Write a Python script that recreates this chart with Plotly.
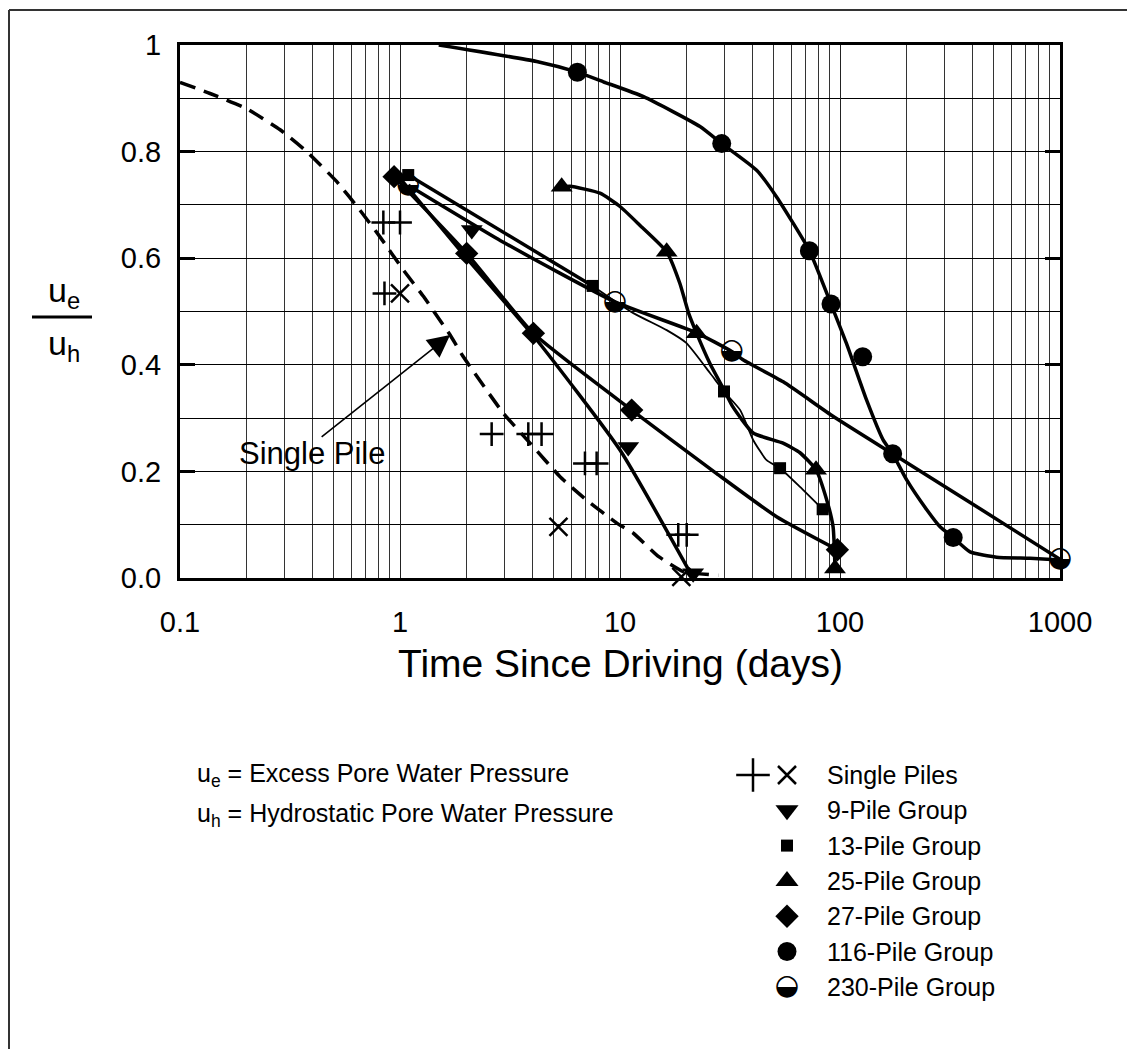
import math
import plotly.graph_objects as go

PAGE_W, PAGE_H = 1135, 1057
OFF = 8  # browser body margin
W, H = PAGE_W - 2 * OFF, PAGE_H - 2 * OFF
FONT = "Liberation Sans, Arial, Helvetica, sans-serif"

# ---- data (time in days, ue/uh) ----
# single piles, dashed curve
single_x = [0.1, 0.137, 0.2, 0.285, 0.377, 0.515, 0.658, 0.811, 1.035, 1.28, 1.57, 1.69,
            1.94, 2.95, 3.9, 5.34, 7.05, 9.67, 11.5, 15.0, 19.4, 28.0]
single_y = [0.93, 0.909, 0.881, 0.841, 0.80, 0.744, 0.69, 0.64, 0.578, 0.528, 0.475, 0.456,
            0.415, 0.309, 0.253, 0.19, 0.146, 0.103, 0.084, 0.04, 0.012, 0.005]
plus_x = [0.84, 1.0, 0.85, 2.61, 3.83, 4.40, 6.93, 7.83, 18.4, 20.1]
plus_y = [0.667, 0.667, 0.534, 0.27, 0.27, 0.27, 0.215, 0.215, 0.081, 0.081]
cross_x = [1.0, 5.25, 19.0]
cross_y = [0.534, 0.096, 0.002]

# 9-pile group
g9_line_x = [1.0, 2.01, 4.18, 10.0, 21.5]
g9_line_y = [0.75, 0.60, 0.447, 0.24, 0.0]
g9_x = [2.12, 10.9, 21.5]
g9_y = [0.653, 0.246, 0.009]

# 13-pile group
g13_line_a_x = [1.09, 7.51]
g13_line_a_y = [0.756, 0.548]
g13_line_b_x = [7.51, 11.5, 16.3, 20.0, 25.6, 29.7, 35.2, 40.3, 46.4, 53.4, 65.8, 83.4]
g13_line_b_y = [0.548, 0.497, 0.465, 0.441, 0.385, 0.35, 0.315, 0.259, 0.221, 0.206, 0.171, 0.129]
g13_x = [1.09, 7.51, 29.7, 53.4, 83.4]
g13_y = [0.756, 0.548, 0.35, 0.206, 0.129]

# 25-pile group
g25_line_x = [5.43, 5.93, 8.11, 10.0, 12.3, 16.3, 18.7, 20.5, 22.3, 25.6, 29.7, 32.6,
              40.3, 55.1, 65.8, 77.8, 87.1, 93.0, 94.9]
g25_line_y = [0.734, 0.735, 0.722, 0.697, 0.662, 0.612, 0.553, 0.497, 0.459, 0.403, 0.353, 0.321,
              0.272, 0.253, 0.235, 0.203, 0.146, 0.096, 0.018]
g25_x = [5.43, 16.3, 22.3, 77.8, 94.9]
g25_y = [0.734, 0.612, 0.459, 0.203, 0.018]

# 27-pile group
g27_line_x = [0.94, 2.01, 4.04, 11.3, 27.5, 51.5, 97.3]
g27_line_y = [0.753, 0.609, 0.459, 0.315, 0.196, 0.115, 0.053]
g27_x = [0.94, 2.01, 4.04, 11.3, 97.3]
g27_y = [0.753, 0.609, 0.459, 0.315, 0.053]

# 116-pile group
g116_line_x = [1.5, 4.18, 6.4, 8.4, 12.8, 23.1, 29.0, 41.8, 51.5, 72.6, 91.0, 107, 132, 157,
               173.5, 201, 248, 285, 327, 390, 515, 731, 1000]
g116_line_y = [1.0, 0.969, 0.949, 0.931, 0.903, 0.847, 0.815, 0.765, 0.715, 0.614, 0.514, 0.44,
               0.334, 0.259, 0.233, 0.184, 0.128, 0.096, 0.076, 0.049, 0.039, 0.037, 0.034]
g116_x = [6.4, 29.0, 72.6, 91.0, 126.8, 173.5, 327]
g116_y = [0.949, 0.815, 0.614, 0.514, 0.415, 0.233, 0.076]

# 230-pile group
g230_line_x = [1.09, 2.95, 9.49, 22.3, 32.2, 36.4, 55.2, 93.3, 173.5, 376, 1000]
g230_line_y = [0.737, 0.63, 0.518, 0.46, 0.425, 0.409, 0.368, 0.303, 0.233, 0.146, 0.035]
g230_x = [1.09, 9.49, 32.2, 1000]
g230_y = [0.737, 0.518, 0.425, 0.035]

x_ticks = [0.1, 1, 10, 100, 1000]
x_tick_text = ["0.1", "1", "10", "100", "1000"]
y_ticks = [0.0, 0.2, 0.4, 0.6, 0.8, 1.0]
y_tick_text = ["0.0", "0.2", "0.4", "0.6", "0.8", "1"]

legend_labels = ["Single Piles", "9-Pile Group", "13-Pile Group", "25-Pile Group",
                 "27-Pile Group", "116-Pile Group", "230-Pile Group"]

# plot box in page pixels
PX0, PX1, PY0, PY1 = 180, 1060, 45, 578


def px(x):
    return (x - OFF) / W


def py(y):
    return 1 - (y - OFF) / H


fig = go.Figure()


def add_line(x, y, width=3.5, dash="solid", smooth=0.5):
    fig.add_trace(go.Scatter(x=x, y=y, mode="lines", hoverinfo="skip", showlegend=False,
                             line=dict(color="black", width=width, dash=dash,
                                       shape="spline", smoothing=smooth)))


def add_marks(x, y, symbol, size, xa="x", ya="y", lw=0):
    fig.add_trace(go.Scatter(x=x, y=y, mode="markers", xaxis=xa, yaxis=ya,
                             hoverinfo="skip", showlegend=False, cliponaxis=False,
                             marker=dict(symbol=symbol, size=size, color="black",
                                         line=dict(color="black", width=lw))))


def add_half(x, y, size, xa="x", ya="y"):
    fig.add_trace(go.Scatter(x=x, y=y, mode="text", text=["\u25D2"] * len(x),
                             xaxis=xa, yaxis=ya, hoverinfo="skip", showlegend=False,
                             textposition="middle center", cliponaxis=False,
                             textfont=dict(family="DejaVu Sans", size=size, color="black")))


add_line(single_x, single_y, 3.5, dash="16px,9px", smooth=0.4)
add_line(g9_line_x, g9_line_y)
add_line(g13_line_a_x, g13_line_a_y)
add_line(g13_line_b_x, g13_line_b_y, 1.8)
add_line(g25_line_x, g25_line_y)
add_line(g27_line_x, g27_line_y)
add_line(g116_line_x, g116_line_y)
add_line(g230_line_x, g230_line_y)

add_marks(plus_x, plus_y, "cross-thin", 17, lw=2.5)
add_marks(cross_x, cross_y, "x-thin", 18, lw=2.5)
add_marks(g9_x, g9_y, "triangle-down", 19)
add_marks(g13_x, g13_y, "square", 12)
add_marks(g25_x, g25_y, "triangle-up", 19)
add_marks(g27_x, g27_y, "diamond", 18)
add_marks(g116_x, g116_y, "circle", 19)
add_half(g230_x, g230_y, 28)

# legend drawn on a page-pixel overlay axis
LEG_X, LEG_Y0, LEG_DY = 787, 775, 35.3
leg_y = [LEG_Y0 + i * LEG_DY for i in range(len(legend_labels))]
add_marks([753], [leg_y[0]], "cross-thin", 24, "x3", "y3", lw=2.5)
add_marks([LEG_X], [leg_y[0]], "x-thin", 18, "x3", "y3", lw=2.5)
add_marks([LEG_X], [leg_y[1]], "triangle-down", 20, "x3", "y3")
add_marks([LEG_X], [leg_y[2]], "square", 12, "x3", "y3")
add_marks([LEG_X], [leg_y[3]], "triangle-up", 20, "x3", "y3")
add_marks([LEG_X], [leg_y[4]], "diamond", 18, "x3", "y3")
add_marks([LEG_X], [leg_y[5]], "circle", 19, "x3", "y3")
add_half([LEG_X], [leg_y[6]], 28, "x3", "y3")

annotations = []
for lab, yy in zip(legend_labels, leg_y):
    annotations.append(dict(x=px(825), y=py(yy), xref="paper", yref="paper", text=lab,
                            showarrow=False, xanchor="left", yanchor="middle",
                            font=dict(family=FONT, size=25, color="black")))

annotations += [
    dict(x=px(195), y=py(775), xref="paper", yref="paper", xanchor="left", yanchor="middle",
         text="u<sub>e</sub> = Excess Pore Water Pressure", showarrow=False,
         font=dict(family=FONT, size=25, color="black")),
    dict(x=px(195), y=py(815), xref="paper", yref="paper", xanchor="left", yanchor="middle",
         text="u<sub>h</sub> = Hydrostatic Pore Water Pressure", showarrow=False,
         font=dict(family=FONT, size=25, color="black")),
    dict(x=px(620), y=py(663), xref="paper", yref="paper", xanchor="center", yanchor="middle",
         text="Time Since Driving (days)", showarrow=False,
         font=dict(family=FONT, size=39, color="black")),
    dict(x=px(64), y=py(293), xref="paper", yref="paper", xanchor="center", yanchor="middle",
         text="u<sub>e</sub>", showarrow=False, font=dict(family=FONT, size=34, color="black")),
    dict(x=px(64), y=py(345), xref="paper", yref="paper", xanchor="center", yanchor="middle",
         text="u<sub>h</sub>", showarrow=False, font=dict(family=FONT, size=34, color="black")),
    dict(x=px(312), y=py(453), xref="paper", yref="paper", xanchor="center", yanchor="middle",
         text="Single Pile", showarrow=False, font=dict(family=FONT, size=31, color="black")),
    dict(x=math.log10(1.69), y=0.456, xref="x", yref="y", text="", showarrow=True,
         ax=-130, ay=103, arrowhead=2, arrowsize=2.8, arrowwidth=1.6, arrowcolor="black",
         standoff=0, startstandoff=0),
]

shapes = [
    dict(type="line", xref="paper", yref="paper", x0=px(9), y0=py(10), x1=1, y1=py(10),
         line=dict(color="#333", width=2)),
    dict(type="line", xref="paper", yref="paper", x0=px(9), y0=py(10), x1=px(9), y1=0,
         line=dict(color="#333", width=2)),
    dict(type="line", xref="paper", yref="paper", x0=px(32), y0=py(317), x1=px(92), y1=py(317),
         line=dict(color="black", width=3)),
]

x_minor = [m * 10 ** e for e in range(-1, 3) for m in range(2, 10)]
y_minor = [0.1, 0.3, 0.5, 0.7, 0.9]

fig.update_layout(
    width=W, height=H,
    margin=dict(l=0, r=0, t=0, b=0),
    paper_bgcolor="white", plot_bgcolor="rgba(0,0,0,0)",
    font=dict(family=FONT, color="black"),
    showlegend=False,
    xaxis=dict(type="log", range=[-1, 3], domain=[px(PX0), px(PX1)], anchor="y",
               tickmode="array", tickvals=x_ticks, ticktext=x_tick_text, ticks="",
               tickfont=dict(size=29), ticklabelstandoff=16,
               showline=True, linewidth=3, linecolor="black", mirror=True,
               showgrid=True, gridcolor="#222", gridwidth=1, zeroline=False,
               minor=dict(tickmode="array", tickvals=x_minor, showgrid=True,
                          gridcolor="#333", gridwidth=1, ticks=""),
               automargin=False),
    yaxis=dict(range=[0, 1], domain=[py(PY1), py(PY0)], anchor="x",
               tickmode="array", tickvals=y_ticks, ticktext=y_tick_text,
               ticks="inside", ticklen=15, tickwidth=3, tickcolor="black",
               tickfont=dict(size=29), ticklabelstandoff=10,
               showline=True, linewidth=3, linecolor="black", mirror="ticks",
               showgrid=True, gridcolor="black", gridwidth=1, zeroline=False,
               minor=dict(tickmode="array", tickvals=y_minor, showgrid=True,
                          gridcolor="black", gridwidth=1, ticks=""),
               automargin=False),
    xaxis3=dict(domain=[0, 1], range=[OFF, OFF + W], visible=False, anchor="y3", fixedrange=True),
    yaxis3=dict(domain=[0, 1], range=[OFF + H, OFF], visible=False, anchor="x3", fixedrange=True),
    annotations=annotations,
    shapes=shapes,
)

fig.write_html("out.html")
